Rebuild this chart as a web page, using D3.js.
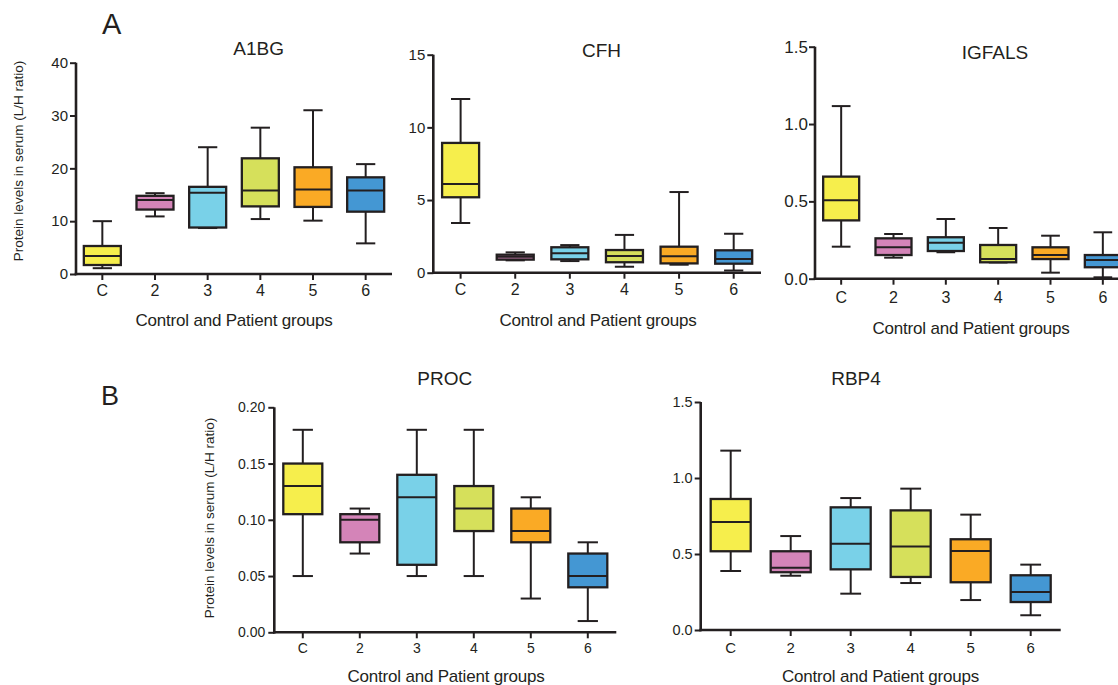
<!DOCTYPE html>
<html>
<head>
<meta charset="utf-8">
<script src="https://cdn.jsdelivr.net/npm/d3@7"></script>
<style>
  html, body { margin: 0; padding: 0; background: #ffffff; }
  svg { display: block; }
  text { font-family: "Liberation Sans", Arial, Helvetica, sans-serif; fill: #231f20; }
</style>
</head>
<body>
<svg id="chart" width="1118" height="685"></svg>
<script>
// ---------------- DATA ----------------
const groups = ["C", "2", "3", "4", "5", "6"];
const groupColors = ["#f6ee4c", "#d484b8", "#79d1e8", "#d6e05b", "#faaa25", "#4497d3"];

// five-number summaries per group: [min, q1, median, q3, max]
const a1bgStats = [
  [1.1, 1.7, 3.4, 5.3, 10.0],
  [10.9, 12.2, 14.0, 14.8, 15.3],
  [8.7, 8.8, 15.4, 16.5, 24.0],
  [10.4, 12.8, 15.8, 21.9, 27.7],
  [10.1, 12.7, 16.0, 20.2, 31.0],
  [5.8, 11.8, 15.8, 18.3, 20.8]
];
const cfhStats = [
  [3.42, 5.19, 6.1, 8.93, 11.95],
  [0.85, 0.9, 1.1, 1.24, 1.4],
  [0.8, 0.92, 1.33, 1.75, 1.9],
  [0.41, 0.72, 1.15, 1.56, 2.6],
  [0.55, 0.64, 1.13, 1.79, 5.55],
  [0.15, 0.62, 0.94, 1.54, 2.68]
];
const igfalsStats = [
  [0.207, 0.377, 0.507, 0.66, 1.116],
  [0.136, 0.153, 0.203, 0.261, 0.289],
  [0.171, 0.179, 0.233, 0.268, 0.386],
  [0.105, 0.106, 0.127, 0.218, 0.328],
  [0.039, 0.127, 0.153, 0.203, 0.278],
  [0.009, 0.074, 0.121, 0.153, 0.3]
];
const procStats = [
  [0.05, 0.105, 0.13, 0.15, 0.18],
  [0.07, 0.08, 0.10, 0.105, 0.11],
  [0.05, 0.06, 0.12, 0.14, 0.18],
  [0.05, 0.09, 0.11, 0.13, 0.18],
  [0.03, 0.08, 0.09, 0.11, 0.12],
  [0.01, 0.04, 0.05, 0.07, 0.08]
];
const rbp4Stats = [
  [0.388, 0.518, 0.71, 0.862, 1.18],
  [0.357, 0.38, 0.41, 0.518, 0.618],
  [0.239, 0.399, 0.568, 0.807, 0.868],
  [0.309, 0.349, 0.55, 0.787, 0.93],
  [0.197, 0.314, 0.52, 0.597, 0.759],
  [0.097, 0.184, 0.25, 0.36, 0.43]
];

const a1bgTicks = [0, 10, 20, 30, 40];
const cfhTicks = [0, 5, 10, 15];
const igfalsTicks = [0, 0.5, 1.0, 1.5];
const procTicks = [0, 0.05, 0.10, 0.15, 0.20];
const rbp4Ticks = [0, 0.5, 1.0, 1.5];

const titles = ["A1BG", "CFH", "IGFALS", "PROC", "RBP4"];
const yTitle = "Protein levels in serum (L/H ratio)";
const xTitle = "Control and Patient groups";
const panelLetters = ["A", "B"];

// ---------------- LAYOUT ----------------
const INK = "#231f20";
const svg = d3.select("#chart");

const panels = [
  { title: titles[0], stats: a1bgStats, ticks: a1bgTicks, fmt: d3.format("d"),
    x0: 76, x1: 392, yb: 274, yt: 62.7, boxW: 37, yFs: 15, xFs: 16, yPad: 2, xPad: 5,
    titleX: 258.7, titleY: 55, xLabX: 234, xLabY: 326, yLab: { x: 18, y: 161 } },
  { title: titles[1], stats: cfhStats, ticks: cfhTicks, fmt: d3.format("d"),
    x0: 433.3, x1: 761, yb: 272.7, yt: 54.7, boxW: 37, yFs: 15, xFs: 16, yPad: 2, xPad: 5,
    titleX: 601.5, titleY: 57, xLabX: 598, xLabY: 326 },
  { title: titles[2], stats: igfalsStats, ticks: igfalsTicks, fmt: d3.format(".1f"),
    x0: 815, x1: 1129, yb: 278.7, yt: 46.7, boxW: 36, yFs: 17, xFs: 16, yPad: 1, xPad: 7,
    titleX: 995, titleY: 59, xLabX: 971, xLabY: 334 },
  { title: titles[3], stats: procStats, ticks: procTicks, fmt: d3.format(".2f"),
    x0: 274.3, x1: 616.3, yb: 632.3, yt: 407.3, boxW: 39, yFs: 14, xFs: 14, yPad: 3, xPad: 5,
    titleX: 444.7, titleY: 384.5, xLabX: 446, xLabY: 682, yLab: { x: 209, y: 518 } },
  { title: titles[4], stats: rbp4Stats, ticks: rbp4Ticks, fmt: d3.format(".1f"),
    x0: 700.7, x1: 1060.7, yb: 630, yt: 402, boxW: 40, yFs: 14.5, xFs: 15, yPad: 2, xPad: 6,
    titleX: 856, titleY: 384.5, xLabX: 880.5, xLabY: 682 }
];

function drawPanel(p) {
  const g = svg.append("g");
  const x = d3.scaleBand().domain(groups).range([p.x0, p.x1]);
  const y = d3.scaleLinear().domain([0, p.ticks[p.ticks.length - 1]]).range([p.yb, p.yt]);

  // boxes
  const bg = g.append("g");
  p.stats.forEach((s, i) => {
    const cx = x(groups[i]) + x.bandwidth() / 2;
    const [mn, q1, md, q3, mx] = s;
    const capW = p.boxW * 0.52;
    const lw = 2;
    bg.append("line").attr("x1", cx).attr("x2", cx).attr("y1", y(q3)).attr("y2", y(mx))
      .attr("stroke", INK).attr("stroke-width", lw);
    bg.append("line").attr("x1", cx).attr("x2", cx).attr("y1", y(q1)).attr("y2", y(mn))
      .attr("stroke", INK).attr("stroke-width", lw);
    bg.append("line").attr("x1", cx - capW / 2).attr("x2", cx + capW / 2).attr("y1", y(mx)).attr("y2", y(mx))
      .attr("stroke", INK).attr("stroke-width", lw);
    bg.append("line").attr("x1", cx - capW / 2).attr("x2", cx + capW / 2).attr("y1", y(mn)).attr("y2", y(mn))
      .attr("stroke", INK).attr("stroke-width", lw);
    bg.append("rect").attr("x", cx - p.boxW / 2).attr("y", y(q3))
      .attr("width", p.boxW).attr("height", Math.max(0.5, y(q1) - y(q3)))
      .attr("fill", groupColors[i]).attr("stroke", INK).attr("stroke-width", 2.3);
    bg.append("line").attr("x1", cx - p.boxW / 2).attr("x2", cx + p.boxW / 2).attr("y1", y(md)).attr("y2", y(md))
      .attr("stroke", INK).attr("stroke-width", 2);
  });

  // axes
  const yAx = g.append("g").attr("transform", `translate(${p.x0},0)`)
    .call(d3.axisLeft(y).tickValues(p.ticks).tickFormat(p.fmt).tickSize(6).tickSizeOuter(0).tickPadding(p.yPad));
  const xAx = g.append("g").attr("transform", `translate(0,${p.yb})`)
    .call(d3.axisBottom(x).tickSize(6).tickSizeOuter(0).tickPadding(p.xPad));
  [yAx, xAx].forEach(ax => {
    ax.select(".domain").attr("stroke", INK).attr("stroke-width", 2.6);
    ax.selectAll(".tick line").attr("stroke", INK).attr("stroke-width", 2);
    ax.selectAll(".tick text").attr("font-family", "'Liberation Sans', Arial, sans-serif").attr("fill", INK);
  });
  yAx.selectAll(".tick text").attr("font-size", p.yFs);
  xAx.selectAll(".tick text").attr("font-size", p.xFs);
  yAx.select(".domain").attr("d", `M0,${p.yb + 1.3}V${p.yt}`);
  xAx.select(".domain").attr("d", `M${p.x0 - 1.3},0H${p.x1}`);

  g.append("text").attr("x", p.titleX).attr("y", p.titleY).attr("text-anchor", "middle")
    .attr("font-size", 19).text(p.title);
  g.append("text").attr("x", p.xLabX).attr("y", p.xLabY).attr("text-anchor", "middle")
    .attr("font-size", 17).attr("letter-spacing", -0.2).text(xTitle);
  if (p.yLab) {
    g.append("text").attr("transform", `translate(${p.yLab.x},${p.yLab.y}) rotate(-90)`)
      .attr("text-anchor", "middle").attr("dominant-baseline", "central")
      .attr("font-size", 13.5).text(yTitle);
  }
}

panels.forEach(drawPanel);

svg.append("text").attr("x", 102).attr("y", 34).attr("font-size", 29).text(panelLetters[0]);
svg.append("text").attr("x", 101).attr("y", 405).attr("font-size", 27).text(panelLetters[1]);
</script>
</body>
</html>
